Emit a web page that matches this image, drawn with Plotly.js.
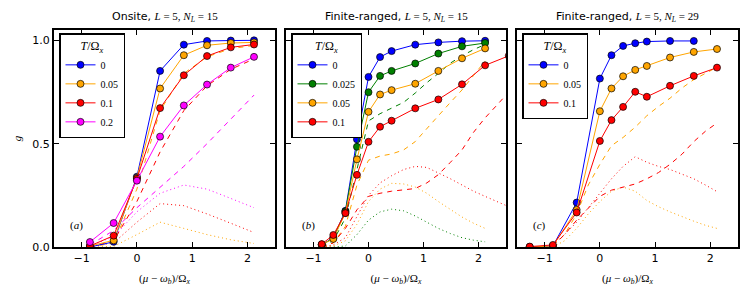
<!DOCTYPE html>
<html><head><meta charset="utf-8">
<script src="https://cdn.plot.ly/plotly-3.0.1.min.js"></script>
<style>html,body{margin:0;padding:0;background:#fff}</style>
</head><body><div id="chart" style="width:750px;height:300px"></div>
<script>
// ---------- Panel (a): Onsite, L=5, N_L=15 ----------
const xA = [-0.85, -0.42, 0, 0.42, 0.85, 1.27, 1.70, 2.12];
const aT0    = [0.0, 0.025, 0.34, 0.852, 0.979, 0.997, 0.999, 1.0];
const aT005  = [0.005, 0.032, 0.335, 0.767, 0.928, 0.976, 0.987, 0.99];
const aT01   = [0.005, 0.055, 0.33, 0.672, 0.831, 0.924, 0.966, 0.98];
const aT02   = [0.024, 0.116, 0.321, 0.534, 0.685, 0.786, 0.868, 0.92];
const aDash005 = [0.0, 0.02, 0.28, 0.66, 0.84, 0.92, 0.96, 0.975];
const aDash01  = [0.0, 0.03, 0.22, 0.46, 0.66, 0.78, 0.86, 0.91];
const aDash02  = [0.01, 0.08, 0.19, 0.29, 0.39, 0.50, 0.62, 0.735];
const aDot005  = [0.0, 0.003, 0.06, 0.12, 0.09, 0.06, 0.035, 0.017];
const aDot01   = [0.0, 0.02, 0.12, 0.21, 0.20, 0.16, 0.115, 0.07];
const aDot02   = [0.005, 0.05, 0.17, 0.26, 0.30, 0.28, 0.235, 0.19];
const aLabels  = ['0', '0.05', '0.1', '0.2'];

// ---------- Panel (b): Finite-ranged, L=5, N_L=15 ----------
const xB    = [-0.85, -0.64, -0.42, -0.21, 0, 0.21, 0.42, 0.85, 1.27, 1.70, 2.12];
const xBred = [-0.85, -0.64, -0.42, -0.21, 0, 0.21, 0.42, 0.85, 1.27, 1.70, 2.12, 2.55];
const bT0    = [0.01, 0.045, 0.175, 0.521, 0.823, 0.919, 0.948, 0.979, 0.99, 0.996, 0.998];
const bT0025 = [0.01, 0.043, 0.172, 0.485, 0.749, 0.828, 0.852, 0.888, 0.936, 0.971, 0.987];
const bT005  = [0.012, 0.039, 0.165, 0.424, 0.654, 0.738, 0.759, 0.79, 0.852, 0.913, 0.961];
const bT01   = [0.014, 0.058, 0.164, 0.349, 0.509, 0.582, 0.611, 0.671, 0.714, 0.787, 0.879, 0.925];
const xBf    = [-0.85, -0.64, -0.42, -0.21, 0, 0.21, 0.42, 0.64, 0.85, 1.06, 1.27, 1.49, 1.70, 1.91, 2.12];
const xBfred = [-0.85, -0.64, -0.42, -0.21, 0, 0.21, 0.42, 0.64, 0.85, 1.06, 1.27, 1.49, 1.70, 1.91, 2.12, 2.33, 2.55];
const bDash0025 = [0.0, 0.03, 0.14, 0.37, 0.61, 0.645, 0.67, 0.70, 0.745, 0.795, 0.84, 0.89, 0.925, 0.955, 0.98];
const bDash005  = [0.0, 0.02, 0.10, 0.30, 0.42, 0.44, 0.45, 0.47, 0.51, 0.57, 0.635, 0.70, 0.76, 0.83, 0.90];
const bDash01   = [0.0, 0.02, 0.09, 0.18, 0.245, 0.26, 0.27, 0.275, 0.283, 0.31, 0.35, 0.41, 0.47, 0.555, 0.625, 0.685, 0.75];
const bDot0025  = [0.0, 0.0, 0.005, 0.06, 0.13, 0.17, 0.183, 0.175, 0.15, 0.12, 0.09, 0.065, 0.045, 0.033, 0.025];
const bDot005   = [0.0, 0.005, 0.03, 0.11, 0.22, 0.28, 0.308, 0.305, 0.29, 0.26, 0.22, 0.18, 0.145, 0.115, 0.09];
const bDot01    = [0.0, 0.01, 0.045, 0.15, 0.25, 0.31, 0.345, 0.375, 0.39, 0.385, 0.36, 0.33, 0.30, 0.27, 0.245, 0.22, 0.195];
const bLabels   = ['0', '0.025', '0.05', '0.1'];

// ---------- Panel (c): Finite-ranged, L=5, N_L=29 ----------
const xC   = [-1.27, -0.85, -0.42, 0, 0.21, 0.42, 0.64, 0.85, 1.27, 1.70, 2.12];
const cT0   = [0.0, 0.005, 0.215, 0.815, 0.928, 0.973, 0.986, 0.994, 0.997, 0.997, null];
const cT005 = [0.0, 0.005, 0.18, 0.657, 0.767, 0.826, 0.857, 0.876, 0.917, 0.944, 0.958];
const cT01  = [0.002, 0.01, 0.167, 0.513, 0.614, 0.678, 0.751, 0.727, 0.78, 0.828, 0.868];
const xCf  = [-0.85, -0.64, -0.42, -0.21, 0, 0.21, 0.42, 0.64, 0.85, 1.06, 1.27, 1.49, 1.70, 1.91, 2.12];
const cDash005 = [0.005, 0.06, 0.16, 0.30, 0.40, 0.49, 0.53, 0.58, 0.635, 0.68, 0.72, 0.77, 0.81, 0.84, 0.87];
const cDash01  = [0.005, 0.06, 0.13, 0.19, 0.245, 0.275, 0.29, 0.305, 0.33, 0.36, 0.40, 0.45, 0.51, 0.56, 0.60];
const cDot005  = [0.0, 0.03, 0.09, 0.16, 0.22, 0.27, 0.29, 0.27, 0.225, 0.195, 0.17, 0.145, 0.125, 0.105, 0.09];
const cDot01   = [0.01, 0.06, 0.12, 0.19, 0.26, 0.33, 0.39, 0.437, 0.41, 0.39, 0.375, 0.35, 0.33, 0.30, 0.268];
const cLabels  = ['0', '0.05', '0.1'];

const xTicks = [-1, 0, 1, 2];
const yTicks = [0, 0.5, 1.0];

// ---------- styling ----------
const BLUE = '#0000ff', GREEN = '#008000', ORANGE = '#ffa500', RED = '#ff0000', MAG = '#ff00ff';
const SANS = 'DejaVu Sans, sans-serif';
const SERIF = 'Liberation Serif, DejaVu Serif, serif';

function solid(x, y, color, name, ax, leg) {
  return {x: x, y: y, type: 'scatter', mode: 'lines+markers', name: name,
    xaxis: ax.x, yaxis: ax.y, legend: leg, showlegend: true,
    line: {color: color, width: 1},
    marker: {color: color, size: 7, line: {color: '#000', width: 0.7}}};
}
function curve(x, y, color, dash, ax) {
  return {x: x, y: y, type: 'scatter', mode: 'lines', xaxis: ax.x, yaxis: ax.y,
    showlegend: false, hoverinfo: 'skip',
    line: {color: color, width: 1, dash: dash}};
}
const DASH = '5px,5px', DOT = '1px,3px';
const A = {x: 'x', y: 'y'}, B = {x: 'x2', y: 'y2'}, C = {x: 'x3', y: 'y3'};

const traces = [
  curve(xA, aDot005, ORANGE, DOT, A), curve(xA, aDot01, RED, DOT, A), curve(xA, aDot02, MAG, DOT, A),
  curve(xA, aDash005, ORANGE, DASH, A), curve(xA, aDash01, RED, DASH, A), curve(xA, aDash02, MAG, DASH, A),
  solid(xA, aT0, BLUE, aLabels[0], A, 'legend'),
  solid(xA, aT005, ORANGE, aLabels[1], A, 'legend'),
  solid(xA, aT01, RED, aLabels[2], A, 'legend'),
  solid(xA, aT02, MAG, aLabels[3], A, 'legend'),

  curve(xBf, bDot0025, GREEN, DOT, B), curve(xBf, bDot005, ORANGE, DOT, B), curve(xBfred, bDot01, RED, DOT, B),
  curve(xBf, bDash0025, GREEN, DASH, B), curve(xBf, bDash005, ORANGE, DASH, B), curve(xBfred, bDash01, RED, DASH, B),
  solid(xB, bT0, BLUE, bLabels[0], B, 'legend2'),
  solid(xB, bT0025, GREEN, bLabels[1], B, 'legend2'),
  solid(xB, bT005, ORANGE, bLabels[2], B, 'legend2'),
  solid(xBred, bT01, RED, bLabels[3], B, 'legend2'),

  curve(xCf, cDot005, ORANGE, DOT, C), curve(xCf, cDot01, RED, DOT, C),
  curve(xCf, cDash005, ORANGE, DASH, C), curve(xCf, cDash01, RED, DASH, C),
  solid(xC, cT0, BLUE, cLabels[0], C, 'legend3'),
  solid(xC, cT005, ORANGE, cLabels[1], C, 'legend3'),
  solid(xC, cT01, RED, cLabels[2], C, 'legend3'),
];

const xTitle = '(<i>μ</i> − <i>ω</i><sub><i>b</i></sub>)/Ω<sub><i>x</i></sub>';
function xax(domain, anchor) {
  return {domain: domain, anchor: anchor, range: [-1.5, 2.5], tickvals: xTicks,
    showline: true, linecolor: '#000', linewidth: 2, mirror: 'ticks',
    ticks: 'inside', ticklen: 5, tickwidth: 1, tickcolor: '#000',
    showgrid: false, zeroline: false, automargin: false,
    tickfont: {family: SANS, size: 11, color: '#000'},
    title: {text: xTitle, font: {family: SERIF, size: 11, color: '#000'}, standoff: 10}};
}
function yax(anchor, labels) {
  return {domain: [0, 1], anchor: anchor, range: [0, 1.05], tickvals: yTicks, tickformat: '.1f',
    showticklabels: labels, showline: true, linecolor: '#000', linewidth: 2, mirror: 'ticks',
    ticks: 'inside', ticklen: 5, tickwidth: 1, tickcolor: '#000',
    showgrid: false, zeroline: false, automargin: false,
    tickfont: {family: SANS, size: 11, color: '#000'}};
}
function legend(x) {
  return {x: x, y: 0.985, xanchor: 'left', yanchor: 'top', bgcolor: '#fff',
    bordercolor: '#000', borderwidth: 1.5, itemwidth: 30, tracegroupgap: 0,
    font: {family: SERIF, size: 10, color: '#000'},
    title: {text: '<i>T</i>/Ω<sub><i>x</i></sub>', side: 'top center',
            font: {family: SERIF, size: 12, color: '#000'}}};
}

const W = 684;
const dA = [0, 221 / W], dB = [232 / W, 452 / W], dC = [463 / W, 1];

const ya = yax('x', true);
ya.title = {text: '<i>g</i>', font: {family: SERIF, size: 11, color: '#000'}, standoff: 8};

function title(ref, main) {
  return {xref: ref + ' domain', yref: 'paper', x: 0.5, y: 1, yanchor: 'bottom', yshift: 4,
    showarrow: false, text: main, font: {family: SANS, size: 11, color: '#000'}};
}
function plabel(ref, yref, t) {
  return {xref: ref + ' domain', yref: yref + ' domain', x: 0.065, y: 0.06, showarrow: false,
    text: '(<i>' + t + '</i>)', font: {family: SERIF, size: 11, color: '#000'}};
}
const S = (s) => '<span style="font-family:Liberation Serif">' + s + '</span>';

const layout = {
  width: 750, height: 300, margin: {l: 54, r: 12, t: 30, b: 53},
  paper_bgcolor: '#fff', plot_bgcolor: '#fff', showlegend: true,
  xaxis: xax(dA, 'y'), yaxis: ya,
  xaxis2: xax(dB, 'y2'), yaxis2: yax('x2', false),
  xaxis3: xax(dC, 'y3'), yaxis3: yax('x3', false),
  legend: legend(5 / W), legend2: legend(237 / W), legend3: legend(468 / W),
  annotations: [
    title('x', 'Onsite, ' + S('<i>L</i> = 5, <i>N<sub>L</sub></i> = 15')),
    title('x2', 'Finite-ranged, ' + S('<i>L</i> = 5, <i>N<sub>L</sub></i> = 15')),
    title('x3', 'Finite-ranged, ' + S('<i>L</i> = 5, <i>N<sub>L</sub></i> = 29')),
    plabel('x', 'y', 'a'), plabel('x2', 'y2', 'b'), plabel('x3', 'y3', 'c')
  ]
};

Plotly.newPlot('chart', traces, layout, {displayModeBar: false, staticPlot: true});
</script></body></html>
